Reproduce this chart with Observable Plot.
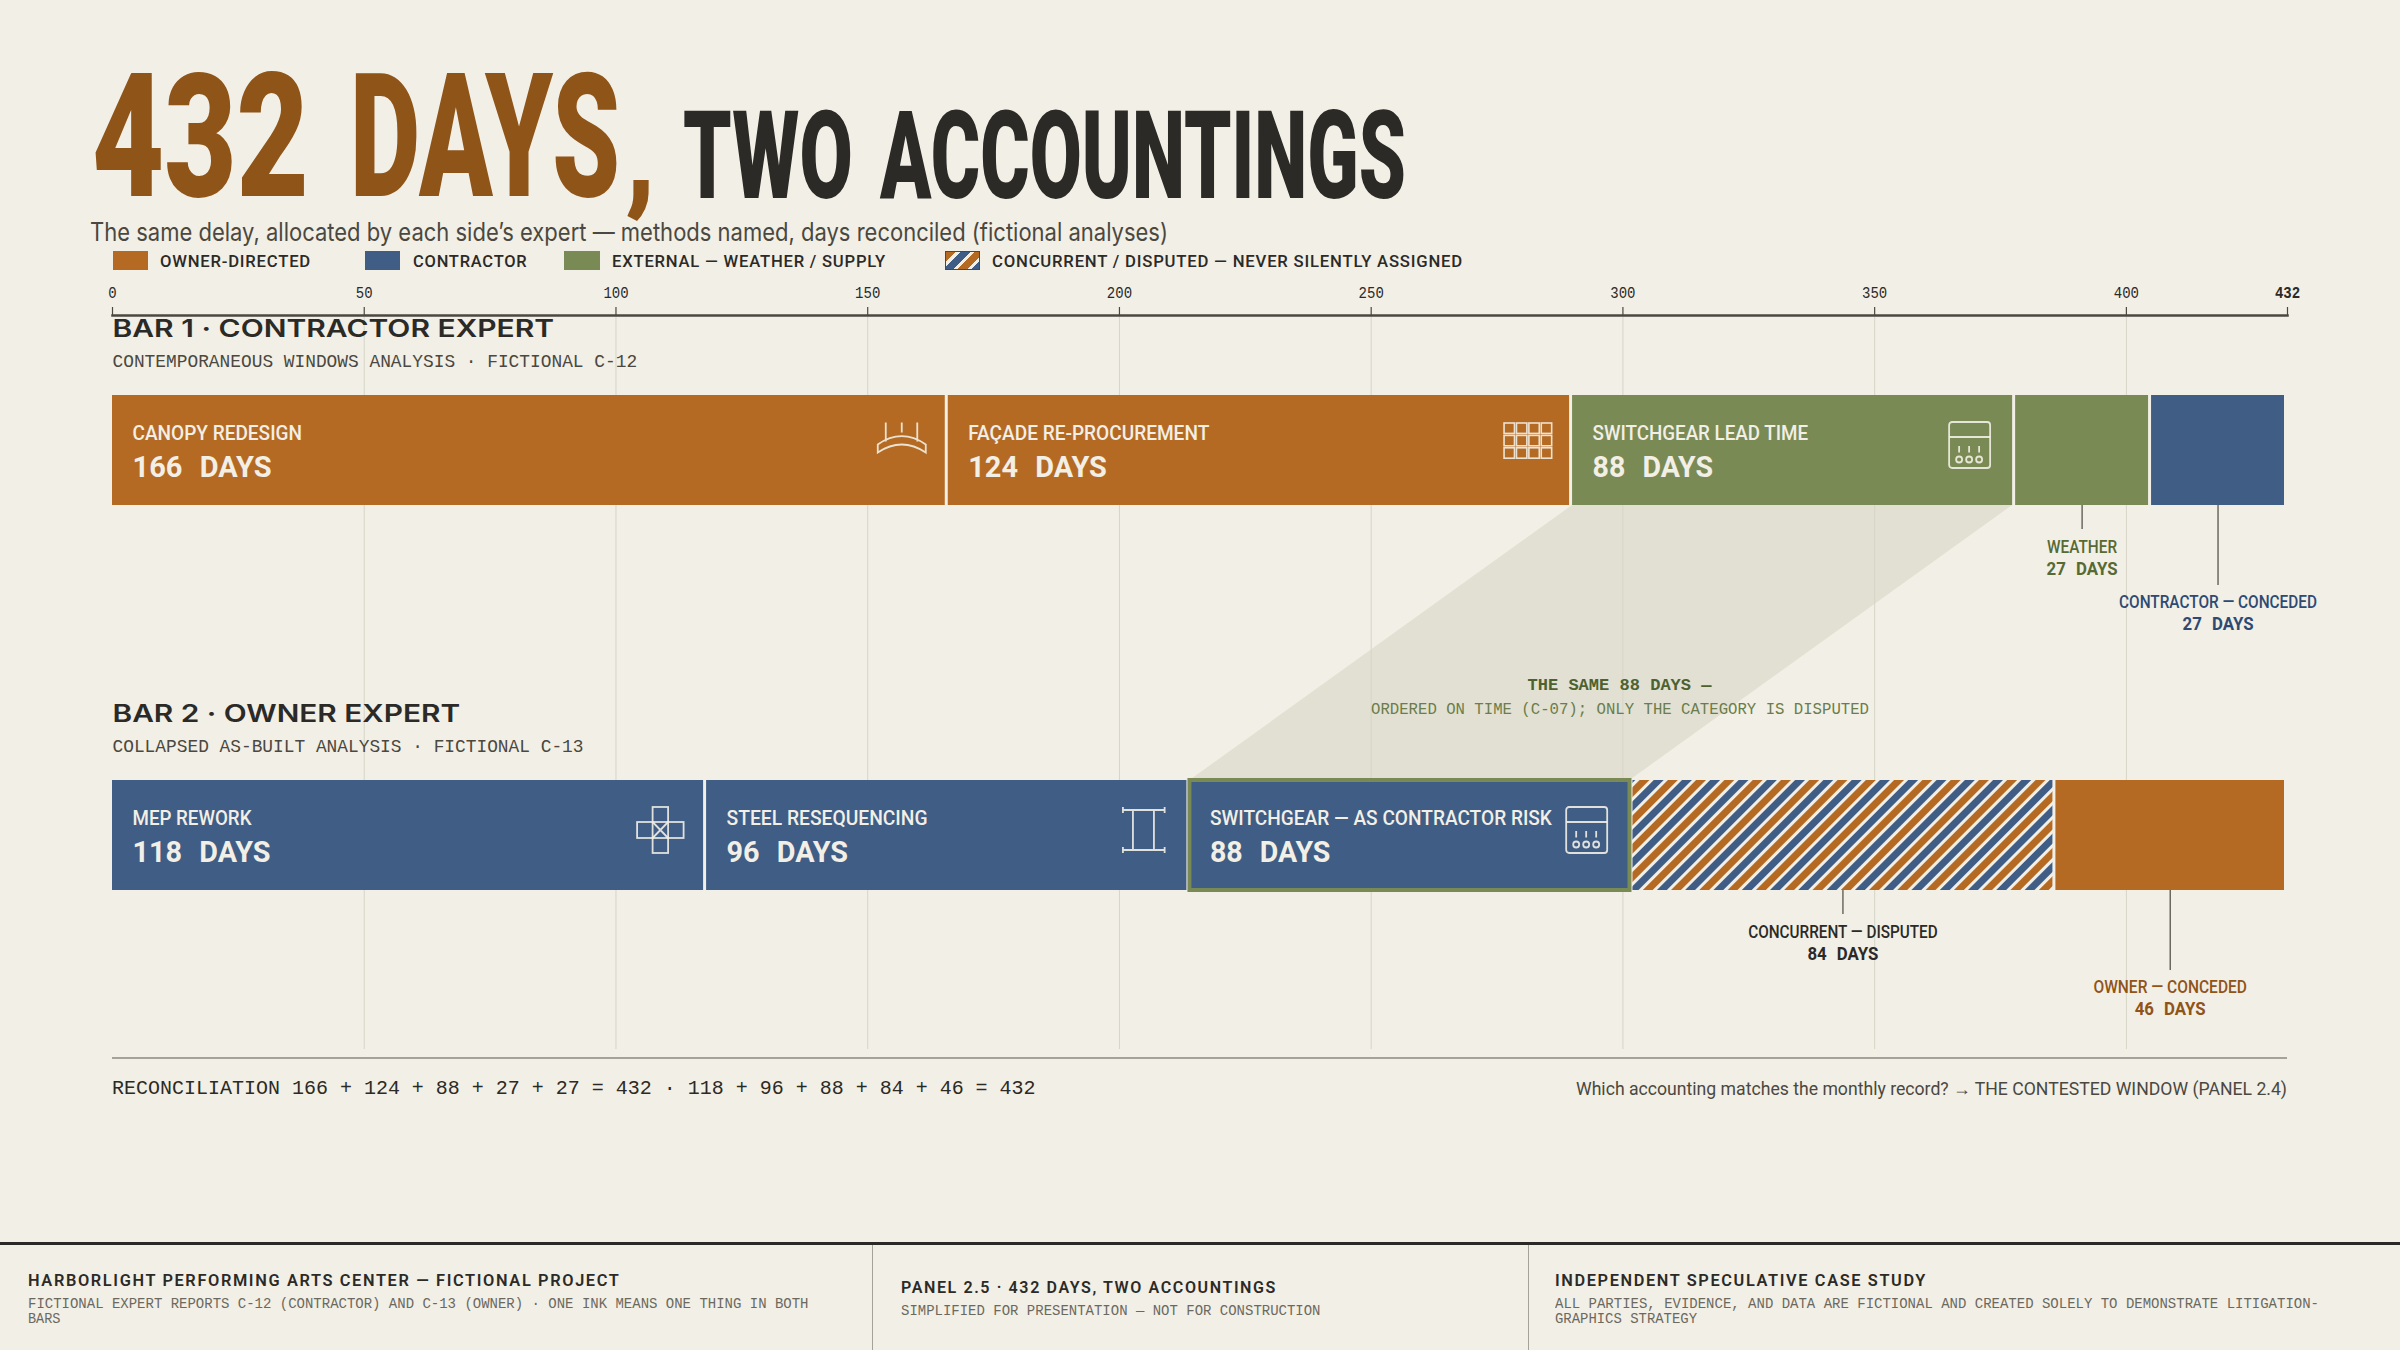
<!DOCTYPE html>
<html><head><meta charset="utf-8">
<script src="https://cdn.jsdelivr.net/npm/d3@7"></script>
<script src="https://cdn.jsdelivr.net/npm/@observablehq/plot@0.6"></script>
<style>
html,body{margin:0;padding:0;background:#f2efe6;}
#root{position:relative;width:2400px;height:1350px;overflow:hidden;background:#f2efe6;color:#2b2a26;}
#root>*{position:absolute;}
.t{white-space:pre;transform-origin:0 50%;line-height:1;}
svg text{white-space:pre;}
</style></head><body><div id="root"></div>
<script>
// ---- data ----
const kinds = ["owner","contractor","external","concurrent"];
const legendLabels = ["OWNER-DIRECTED","CONTRACTOR","EXTERNAL — WEATHER / SUPPLY","CONCURRENT / DISPUTED — NEVER SILENTLY ASSIGNED"];
const bar1Names = ["CANOPY REDESIGN","FAÇADE RE-PROCUREMENT","SWITCHGEAR LEAD TIME","WEATHER","CONTRACTOR — CONCEDED"];
const bar1Days = [166,124,88,27,27];
const bar1Kinds = ["owner","owner","external","external","contractor"];
const bar2Names = ["MEP REWORK","STEEL RESEQUENCING","SWITCHGEAR — AS CONTRACTOR RISK","CONCURRENT — DISPUTED","OWNER — CONCEDED"];
const bar2Days = [118,96,88,84,46];
const bar2Kinds = ["contractor","contractor","contractor","concurrent","owner"];
const rowNames = ["BAR 1","BAR 2"];
const rowHeads = ["BAR 1 · CONTRACTOR EXPERT","BAR 2 · OWNER EXPERT"];
const rowSubs = ["CONTEMPORANEOUS WINDOWS ANALYSIS · FICTIONAL C-12","COLLAPSED AS-BUILT ANALYSIS · FICTIONAL C-13"];
const axisTicks = [0,50,100,150,200,250,300,350,400,432];
const gridTicks = [50,100,150,200,250,300,350,400];
const totalDays = 432;

// ---- style tables ----
const ORANGE="#b56a23", BLUE="#3f5d85", GREEN="#7a8a55", CREAM="#f2efe6", INK="#2b2a26", GREY="#4a4840";
const colorRange=[ORANGE,BLUE,GREEN,"url(#hatch)"];
const inkByKind={owner:"#8f5418",contractor:"#2e4a73",external:"#566a34",concurrent:INK};
const SANS="Roboto", MONO="'Liberation Mono'", WIDE="Inter";
const fitW={ // target text widths
 "CANOPY REDESIGN":169.5,"FAÇADE RE-PROCUREMENT":241,"SWITCHGEAR LEAD TIME":215.5,"MEP REWORK":119,"STEEL RESEQUENCING":201,
 "SWITCHGEAR — AS CONTRACTOR RISK":342,
 "166 DAYS":139,"124 DAYS":138.6,"88 DAYS":120.5,"118 DAYS":138,"96 DAYS":121.5,
 "WEATHER":70,"27 DAYS":71,"CONTRACTOR — CONCEDED":198,"CONCURRENT — DISPUTED":189.5,"84 DAYS":71,"OWNER — CONCEDED":153.5,"46 DAYS":71,
 [rowHeads[0]]:441.6,[rowHeads[1]]:347.7,[rowSubs[0]]:524.6,[rowSubs[1]]:471,
 "THE SAME 88 DAYS —":184,"ORDERED ON TIME (C-07); ONLY THE CATEGORY IS DISPUTED":498
};

// ---- rows built from the arrays ----
function build(row,names,days,ks){let s=0;return names.map((name,i)=>{const x0=s;s+=days[i];return {row,name,days:days[i],kind:ks[i],x0,x1:s,mid:(x0+s)/2,value:days[i]+" DAYS"};});}
const rows1=build(rowNames[0],bar1Names,bar1Days,bar1Kinds);
const rows2=build(rowNames[1],bar2Names,bar2Days,bar2Kinds);
const all=[...rows1,...rows2];
const inside=all.filter(d=>d.days>=88);
const near=[rows1[3],rows2[3]], far=[rows1[4],rows2[4]];
const same=rows2[2], sameTop=rows1[2];
const heads=rowNames.map((row,i)=>({row,head:rowHeads[i],sub:rowSubs[i]}));

const cream=`fill="none" stroke="${CREAM}" stroke-width="1.8" stroke-opacity=".9"`;
const gear=`<rect x="0" y="0" width="41" height="46" rx="3"/><path d="M0 15H41M10 24v6.5M20 24v6.5M30 24v6.5"/><circle cx="10" cy="37.5" r="3"/><circle cx="20" cy="37.5" r="3"/><circle cx="30" cy="37.5" r="3"/>`;
const facade=d3.range(3).flatMap(j=>d3.range(4).map(i=>`<rect x="${i*12.4+1}" y="${j*12.4+1}" width="10.4" height="10.4" stroke-width="1.6"/>`)).join("");
const icons=[
 {row:0,end:166,off:70,top:27.5,svg:`<path d="M8 0V19M24 0V10M39.5 0V19M0 22Q24 5.4 48 22V30Q24 14 0 30Z"/>`},
 {row:0,end:290,off:69,top:27,svg:facade},
 {row:0,end:378,off:66,top:27,svg:gear},
 {row:1,end:118,off:69,top:27,svg:`<rect x="15.5" y="0" width="15.5" height="46"/><rect x="0" y="15" width="46.5" height="16"/><path d="M15.5 15L31 31M31 15L15.5 31"/>`},
 {row:1,end:214,off:66.5,top:28,svg:`<path d="M0 2H41.7M0 42H41.7M0 -1V5M41.7 -1V5M0 39V45M41.7 39V45M10 2V42M31 2V42"/>`},
 {row:1,end:302,off:66.3,top:27,svg:gear}
];

const y0=270; // svg top on the page
const chart=Plot.plot({
 width:2400,height:780,marginLeft:112,marginRight:113,marginTop:45,marginBottom:1,
 style:{background:"transparent",overflow:"visible"},
 x:{domain:[0,totalDays],axis:null},
 y:{type:"band",domain:rowNames,range:[395-y0,890-y0],paddingInner:275/385,paddingOuter:0,align:0.5,axis:null},
 color:{domain:kinds,range:colorRange},
 marks:[
  // ribbon linking the same 88 days
  (index,{x,y})=>{
    const bw=y.bandwidth();
    const pts=[[x(sameTop.x0),y(rowNames[0])+bw],[x(sameTop.x1)-3,y(rowNames[0])+bw],[x(same.x1)-3,y(rowNames[1])],[x(same.x0),y(rowNames[1])]];
    const p=d3.create("svg:polygon").attr("points",pts.join(" ")).attr("fill","#e2e0d3");
    return p.node();
  },
  Plot.gridX(gridTicks,{stroke:"#d6d5c8",strokeOpacity:1,strokeWidth:1}),
  Plot.frame({anchor:"top",stroke:GREY,strokeWidth:2.5}),
  Plot.axisX(axisTicks,{anchor:"top",tickSize:9,tickPadding:9,label:null,stroke:GREY,fill:INK,fontSize:16,fontFamily:MONO,tickFormat:d=>String(d),strokeWidth:1.2}),
  Plot.text(heads,{x:()=>0,y:"row",text:"head",dy:-121,textAnchor:"start",fontFamily:WIDE,fontSize:24,fontWeight:600,fill:INK}),
  Plot.text(heads,{x:()=>0,y:"row",text:"sub",dy:-89,textAnchor:"start",fontFamily:MONO,fontSize:18.5,fill:GREY}),
  Plot.barX(all,{x1:"x0",x2:"x1",y:"row",fill:"kind",insetRight:3}),
  Plot.barX([same],{x1:"x0",x2:"x1",y:"row",fill:"none",stroke:GREEN,strokeWidth:4,insetRight:3}),
  Plot.text(inside,{x:"x0",y:"row",text:"name",dx:20,dy:-17,textAnchor:"start",fontFamily:SANS,fontSize:19.5,fontWeight:500,fill:CREAM}),
  Plot.text(inside,{x:"x0",y:"row",text:"value",dx:20,dy:17,textAnchor:"start",fontFamily:SANS,fontSize:29,fontWeight:700,fill:CREAM}),
  (index,{x,y})=>{
    const g=d3.create("svg:g");
    for(const ic of icons){
      g.append("g").attr("transform",`translate(${x(ic.end)-ic.off},${y(rowNames[ic.row])+ic.top})`).html(`<g ${cream}>${ic.svg}</g>`);
    }
    return g.node();
  },
  Plot.ruleX(near,{x:"mid",dx:-1.5,y1:"row",y2:"row",insetTop:110,insetBottom:-24,stroke:GREY,strokeWidth:1.2}),
  Plot.ruleX(far,{x:"mid",dx:-1.5,y1:"row",y2:"row",insetTop:110,insetBottom:-80,stroke:GREY,strokeWidth:1.2}),
  ...[[near,97,119],[far,152,174]].flatMap(([data,a,b])=>[
    Plot.text(data,{x:"mid",dx:-1.5,y:"row",text:"name",dy:a,fontFamily:SANS,fontSize:17.5,fontWeight:500,fill:{value:d=>inkByKind[d.kind],scale:null}}),
    Plot.text(data,{x:"mid",dx:-1.5,y:"row",text:"value",dy:b,fontFamily:SANS,fontSize:18.5,fontWeight:700,fill:{value:d=>inkByKind[d.kind],scale:null}})
  ])
 ]
});

const root=document.getElementById("root");
const NS="http://www.w3.org/2000/svg";
function svgNote(svg,txt,cx,cy,size,weight,fill){
  const t=document.createElementNS(NS,"text");
  t.textContent=txt;t.setAttribute("x",cx);t.setAttribute("y",cy);t.setAttribute("dy","0.35em");
  t.setAttribute("text-anchor","middle");t.setAttribute("font-family",MONO);t.setAttribute("font-size",size);t.setAttribute("font-weight",weight);t.setAttribute("fill",fill);
  svg.appendChild(t);
}
chart.style.position="absolute";chart.style.left="0";chart.style.top=y0+"px";
svgNote(chart,"THE SAME 88 DAYS —",1619.5,684-y0,17,700,"#4e6230");
svgNote(chart,"ORDERED ON TIME (C-07); ONLY THE CATEGORY IS DISPUTED",1620,708-y0,16,400,"#6a7d4a");
chart.querySelectorAll("text").forEach(t=>{
  const s=t.textContent;
  let w=fitW[s];
  if(/^\d+$/.test(s)) w=s.length*8.4;
  if(w){t.setAttribute("textLength",w);t.setAttribute("lengthAdjust","spacingAndGlyphs");}
  if(/^\d+ DAYS$/.test(s)) t.style.wordSpacing="0.35em";
  if(s===String(totalDays)) t.setAttribute("font-weight",700);
});
const defs=document.createElementNS(NS,"defs");
defs.innerHTML=`<pattern id="hatch" patternUnits="userSpaceOnUse" width="20" height="20" patternTransform="rotate(45)"><rect width="20" height="20" fill="${CREAM}"/><rect x="0" width="7" height="20" fill="${ORANGE}"/><rect x="10" width="7" height="20" fill="${BLUE}"/></pattern>`;
chart.insertBefore(defs,chart.firstChild);

// ---- html helpers ----
function txt(s,x,cy,w,o={}){
  const e=document.createElement("div");e.className="t";e.textContent=s;
  const fs=o.size||16;
  Object.assign(e.style,{left:x+"px",top:(cy-fs/2)+"px",fontSize:fs+"px",fontFamily:o.font||SANS,fontWeight:o.weight||400,color:o.color||INK});
  if(o.extra)Object.assign(e.style,o.extra);
  root.appendChild(e);
  const cw=e.getBoundingClientRect().width;
  e.style.transform=`scaleX(${w/cw})`;
  return e;
}
// one title block, whose words are fitted one by one
function titleBlock(parts,cy,o){
  const h=document.createElement("div");
  Object.assign(h.style,{left:"0",top:"0",fontFamily:"Roboto",fontWeight:900,color:o.color,letterSpacing:"0"});
  root.appendChild(h);
  const lh=o.lh;
  parts.forEach(p=>{
    const sz=p.size||o.size;
    const sp=document.createElement("span");
    sp.textContent=p.s;
    const baseline=cy+0.3555*o.size;
    const top=baseline-(lh/2+(0.927-0.244)/2*sz);
    Object.assign(sp.style,{position:"absolute",whiteSpace:"pre",left:p.x+"px",top:top+"px",fontSize:sz+"px",lineHeight:lh+"px",height:lh+"px",transformOrigin:"0 50%"});
    h.appendChild(sp);
    sp.style.transform=`scaleX(${p.w/sp.getBoundingClientRect().width})`;
  });
}
function box(x,y,w,h,bg){const e=document.createElement("div");Object.assign(e.style,{left:x+"px",top:y+"px",width:w+"px",height:h+"px",background:bg,boxSizing:"border-box"});root.appendChild(e);return e;}

// title
titleBlock([{s:"432 ",x:92,w:248},{s:"DAYS",x:350,w:270},{s:",",x:625,w:31,size:130}],135,{size:172,lh:150,color:"#8f5418"});
titleBlock([{s:"TWO ",x:682.5,w:189},{s:"ACCOUNTINGS",x:880,w:526}],155,{size:122,lh:106,color:INK});
txt("The same delay, allocated by each side’s expert — methods named, days reconciled (fictional analyses)",90,232,1078,{size:25,font:"Inter",color:GREY});

// legend
const hatchCss=`repeating-linear-gradient(135deg,${ORANGE} 0 7px,${CREAM} 7px 10px,${BLUE} 10px 17px,${CREAM} 17px 20px)`;
const legendPos=[[112.5,160,151],[364.7,412.5,114.5],[564,612,274],[944.5,992,471]];
legendLabels.forEach((l,i)=>{
  const [sx,tx,tw]=legendPos[i];
  const b=box(sx,251,35.5,19,i<3?colorRange[i]:hatchCss);
  if(i===3) b.style.border="1px solid "+GREY;
  txt(l,tx,261,tw,{size:17,color:INK,weight:500,extra:{letterSpacing:"0.8px"}});
});
root.appendChild(chart);

// reconciliation
box(112,1057,2175,1.5,"#a5a399");
const sum=a=>a.join(" + ")+" = "+totalDays;
txt(`RECONCILIATION ${sum(bar1Days)} · ${sum(bar2Days)}`,112,1089,923.6,{size:20,font:MONO,color:INK});
txt("Which accounting matches the monthly record? → THE CONTESTED WINDOW (PANEL 2.4)",1576,1089,711,{size:18,color:GREY});

// footer
box(0,1242,2400,3,INK);
box(871.5,1245,1,105,"#a5a399");box(1527.5,1245,1,105,"#a5a399");
const ft={size:16,weight:600,color:INK,extra:{letterSpacing:"1.6px"}},fs={size:15,font:MONO,color:"#6b695f"};
txt("HARBORLIGHT PERFORMING ARTS CENTER — FICTIONAL PROJECT",27.5,1280.5,592.5,ft);
txt("FICTIONAL EXPERT REPORTS C-12 (CONTRACTOR) AND C-13 (OWNER) · ONE INK MEANS ONE THING IN BOTH",27.5,1304,780.5,fs);
txt("BARS",27.5,1319,32.5,fs);
txt("PANEL 2.5 · 432 DAYS, TWO ACCOUNTINGS",900.5,1288,376,ft);
txt("SIMPLIFIED FOR PRESENTATION — NOT FOR CONSTRUCTION",900.5,1311,419.5,fs);
txt("INDEPENDENT SPECULATIVE CASE STUDY",1555,1280.5,372,ft);
txt("ALL PARTIES, EVIDENCE, AND DATA ARE FICTIONAL AND CREATED SOLELY TO DEMONSTRATE LITIGATION-",1555,1304,764,fs);
txt("GRAPHICS STRATEGY",1555,1319,142,fs);
</script></body></html>
